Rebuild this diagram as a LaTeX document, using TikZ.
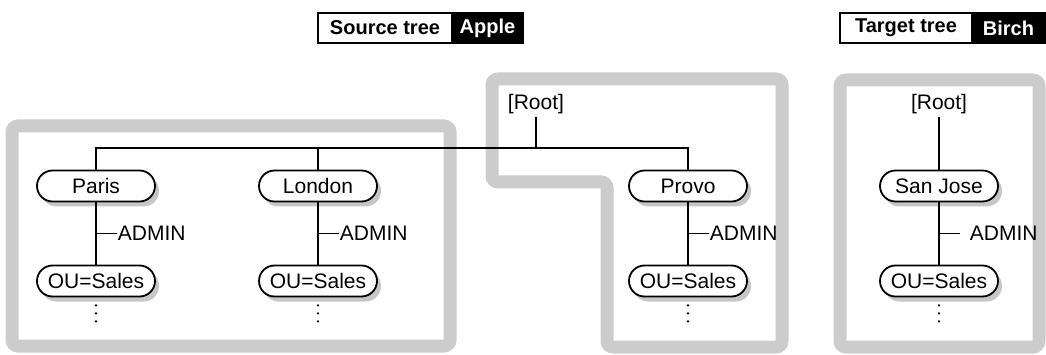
\documentclass[tikz,border=0pt]{standalone}
\usepackage{fontspec}
\setmainfont{Liberation Sans}
\usetikzlibrary{positioning,calc,shadows}

\newcommand{\diagfont}{\fontsize{21}{25}\selectfont}
\newcommand{\titlefont}{\fontsize{20}{24}\selectfont\bfseries}

\tikzset{
	city/.style={draw, line width=1.8pt, fill=white, rounded corners=15.5pt,
		minimum width=118pt, minimum height=31pt, inner sep=0pt,
		drop shadow={shadow xshift=4pt, shadow yshift=-5pt, fill=gray!45, opacity=1}},
	tree/.style={line width=1.8pt},
	frame/.style={line width=13pt, draw=gray!40, rounded corners=6pt},
	titlebox/.style={draw, line width=1.4pt, minimum height=30pt, outer sep=0pt,
		inner sep=0pt, font=\titlefont},
	namebox/.style={titlebox, fill=black, text=white},
}

\begin{document}
\begin{tikzpicture}[x=1pt, y=-1pt, font=\diagfont]
	
	\useasboundingbox (0,0) rectangle (1046,355);
	
	% Grey frames
	\draw[frame] (12,126) rectangle (450,346);
	\draw[frame] (492,79) -- (782,79) -- (782,347) -- (607,347) -- (607,182) -- (492,182) -- cycle;
	\draw[frame] (840,80) rectangle (1039,347);
	
	% Titles
	\node[titlebox, minimum width=134pt] (srclabel) at (385,28) {Source tree};
	\node[namebox, minimum width=71pt, right=0pt of srclabel] (srcname) {Apple};
	\node[titlebox, minimum width=132pt] (tgtlabel) at (906,28) {Target tree};
	\node[namebox, minimum width=73pt, right=0pt of tgtlabel] (tgtname) {Birch};
	
	% Roots
	\node (rootA) at (536,104) {[Root]};
	\node (rootB) at (939,104) {[Root]};
	\coordinate (bus) at (536,148);
	
	% City columns
	\foreach \nm/\x/\city/\gap in {paris/96/Paris/0, london/318/London/0, provo/688/Provo/0, sanjose/939/San Jose/9}
	{
		\node[city] (\nm) at (\x,186) {\city};
		\node[city] (\nm-ou) at (\x,281) {OU=Sales};
		\draw[tree] (\nm) -- (\nm-ou);
		\draw[tree] ($(\nm)!0.5!(\nm-ou)$) -- ++(21,0) node[right=\gap pt, inner sep=0pt] (\nm-admin) {ADMIN};
		\foreach \d in {8,16,24}
			\fill ($(\nm-ou.south)+(0,\d)$) circle (1.2pt);
	}
	
	% Tree lines
	\draw[tree] (paris.north) |- (bus) -| (provo.north);
	\draw[tree] (london.north) -- (london.north |- bus);
	\draw[tree] (rootA) -- (bus);
	\draw[tree] (rootB) -- (sanjose);
	
\end{tikzpicture}
\end{document}
